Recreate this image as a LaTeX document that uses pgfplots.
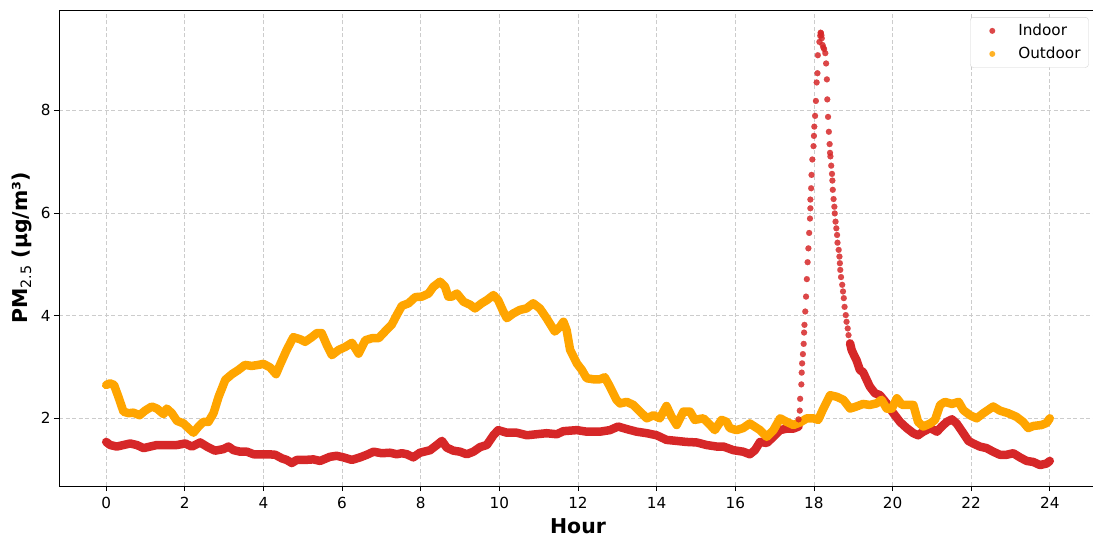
\documentclass[border=0pt]{standalone}
\usepackage{fontspec}
\setmainfont{DejaVu Sans}
\usepackage{pgfplots}
\pgfplotsset{compat=1.18}
\definecolor{inred}{HTML}{D62728}
\definecolor{outor}{HTML}{FFA500}
\begin{document}
\begin{tikzpicture}
\begin{axis}[
  at={(59bp,52bp)}, anchor=south west,
  scale only axis, width=1038bp, height=476bp,
  xmin=-1.2, xmax=25.2, ymin=0.682, ymax=9.951,
  xtick={0,2,...,24}, ytick={2,4,6,8},
  tick pos=left, tick align=outside, major tick length=5bp,
  tick style={black, line width=0.8bp},
  axis line style={line width=1bp},
  grid=major, grid style={dash pattern=on 4bp off 2.5bp, gray!40, line width=0.8bp},
  /pgf/number format/assume math mode=true,
  ticklabel style={font=\fontsize{15.3}{18}\selectfont},
  xticklabel style={yshift=-3bp},
  xlabel={\bfseries Hour},
  xlabel style={yshift=-3bp},
  ylabel={\textbf{PM}\textsubscript{2.5}\textbf{ (µg/m³)}},
  ylabel style={yshift=2bp},
  label style={font=\fontsize{20.5}{24}\selectfont},
  legend style={at={(0.992,0.985)}, anchor=north east, draw=gray!35, rounded corners=3bp,
    font=\fontsize{15.3}{18}\selectfont, row sep=6bp, inner xsep=6bp, inner ysep=5bp,
    cells={anchor=west}},
  legend cell align=left,
]
\addlegendimage{legend image code/.code={\path[draw=none, fill=none] (0bp,0bp) -- (40bp,0bp); \fill[inred, opacity=0.85, draw=none] (16bp,0bp) circle (3bp);}}
\addlegendentry{Indoor}
\addlegendimage{legend image code/.code={\path[draw=none, fill=none] (0bp,0bp) -- (40bp,0bp); \fill[outor, opacity=0.85, draw=none] (16bp,0bp) circle (3bp);}}
\addlegendentry{Outdoor}

% Indoor, dense part before the spike
\addplot[forget plot, inred, line width=8.5bp, line join=round, line cap=round] coordinates {
(0.00,1.54)(0.10,1.48)(0.27,1.45)(0.44,1.48)(0.61,1.51)(0.78,1.48)(0.95,1.42)(1.12,1.45)
(1.29,1.48)(1.54,1.48)(1.80,1.48)(2.01,1.51)(2.18,1.45)(2.39,1.53)(2.56,1.45)(2.77,1.37)
(2.98,1.40)(3.11,1.45)(3.24,1.38)(3.41,1.35)(3.58,1.35)(3.75,1.30)(3.92,1.30)(4.13,1.30)
(4.30,1.29)(4.47,1.22)(4.59,1.19)(4.72,1.13)(4.85,1.19)(5.06,1.19)(5.27,1.20)(5.44,1.17)
(5.69,1.25)(5.86,1.27)(6.03,1.24)(6.25,1.19)(6.46,1.24)(6.63,1.29)(6.80,1.35)(7.01,1.32)
(7.22,1.33)(7.39,1.30)(7.52,1.32)(7.65,1.30)(7.81,1.24)(7.98,1.33)(8.24,1.38)(8.41,1.48)
(8.54,1.56)(8.66,1.43)(8.83,1.37)(9.00,1.35)(9.17,1.30)(9.34,1.35)(9.51,1.44)(9.68,1.48)
(9.85,1.67)(9.97,1.77)(10.19,1.72)(10.44,1.72)(10.70,1.67)(10.95,1.69)(11.20,1.71)(11.46,1.69)
(11.63,1.75)(11.97,1.77)(12.22,1.74)(12.56,1.74)(12.81,1.77)(13.02,1.84)(13.24,1.79)(13.49,1.74)
(13.75,1.71)(14.00,1.67)(14.25,1.58)(14.51,1.56)(14.76,1.54)(15.02,1.53)(15.27,1.48)(15.53,1.45)
(15.70,1.45)(15.95,1.38)(16.20,1.35)(16.37,1.30)(16.50,1.38)(16.63,1.54)(16.80,1.52)(16.97,1.64)
(17.14,1.77)(17.31,1.80)(17.48,1.80)(17.61,1.84)
};
% Indoor, separate points of the spike
\addplot[forget plot, inred, only marks, mark=*, mark size=3bp, mark options={solid, draw=inred, fill=inred, line width=0.1bp, fill opacity=0.85, draw opacity=0.85}] coordinates {
(17.61,1.98)(17.64,2.15)(17.65,2.38)(17.68,2.66)(17.69,2.89)(17.70,3.07)(17.72,3.25)(17.74,3.45)
(17.75,3.67)(17.76,3.82)(17.78,4.08)(17.80,4.37)(17.82,4.71)(17.84,5.04)(17.86,5.31)(17.88,5.61)
(17.90,5.89)(17.91,6.09)(17.91,6.26)(17.93,6.48)(17.94,6.74)(17.96,7.04)(17.99,7.30)(18.00,7.50)
(18.01,7.68)(18.03,7.89)(18.05,8.18)(18.07,8.54)(18.09,8.72)(18.10,9.07)(18.14,9.33)(18.16,9.45)
(18.17,9.51)(18.18,9.50)(18.19,9.46)(18.20,9.40)(18.22,9.27)(18.24,9.22)(18.26,9.19)(18.29,9.11)
(18.31,8.91)(18.33,8.60)(18.34,8.21)(18.36,7.87)(18.38,7.58)(18.40,7.34)(18.41,7.17)(18.42,7.10)
(18.44,6.92)(18.46,6.76)(18.47,6.63)(18.48,6.45)(18.50,6.27)(18.52,6.12)(18.53,5.99)(18.55,5.83)
(18.57,5.70)(18.59,5.57)(18.60,5.42)(18.63,5.28)(18.65,5.15)(18.66,5.02)(18.67,4.89)(18.69,4.75)
(18.72,4.60)(18.74,4.47)(18.76,4.34)(18.78,4.17)(18.81,4.01)(18.83,3.88)(18.86,3.75)(18.88,3.62)
(18.92,3.46)
};
% Indoor, dense part after the spike
\addplot[forget plot, inred, line width=8.5bp, line join=round, line cap=round] coordinates {
(18.92,3.46)(18.96,3.33)(19.02,3.23)(19.08,3.14)(19.17,2.94)(19.25,2.90)(19.42,2.62)(19.55,2.49)
(19.68,2.45)(19.85,2.29)(20.02,2.10)(20.19,1.93)(20.36,1.81)(20.53,1.71)(20.65,1.67)(20.78,1.74)
(20.96,1.81)(21.13,1.74)(21.25,1.84)(21.38,1.93)(21.51,1.98)(21.63,1.90)(21.80,1.71)(21.93,1.56)
(22.05,1.51)(22.22,1.45)(22.39,1.42)(22.56,1.35)(22.73,1.29)(22.90,1.29)(23.07,1.32)(23.24,1.24)
(23.41,1.17)(23.58,1.15)(23.75,1.09)(23.92,1.12)(24.00,1.17)
};
% Outdoor
\addplot[forget plot, outor, line width=8.5bp, line join=round, line cap=round] coordinates {
(0.00,2.65)(0.10,2.68)(0.20,2.65)(0.31,2.42)(0.44,2.13)(0.57,2.10)(0.69,2.11)(0.85,2.06)
(0.99,2.15)(1.16,2.23)(1.29,2.19)(1.46,2.08)(1.54,2.19)(1.67,2.10)(1.80,1.95)(1.97,1.90)
(2.09,1.81)(2.22,1.72)(2.35,1.84)(2.47,1.93)(2.60,1.93)(2.73,2.10)(2.86,2.42)(3.03,2.75)
(3.20,2.86)(3.36,2.94)(3.53,3.04)(3.70,3.02)(3.87,3.04)(4.00,3.06)(4.17,2.99)(4.32,2.86)
(4.42,3.04)(4.59,3.33)(4.76,3.58)(4.93,3.54)(5.06,3.49)(5.23,3.58)(5.36,3.66)(5.48,3.66)
(5.61,3.43)(5.74,3.23)(5.91,3.33)(6.08,3.39)(6.25,3.47)(6.42,3.26)(6.59,3.52)(6.76,3.56)
(6.93,3.56)(7.09,3.69)(7.26,3.82)(7.39,4.01)(7.52,4.19)(7.69,4.24)(7.86,4.36)(8.03,4.37)
(8.20,4.43)(8.32,4.56)(8.49,4.66)(8.62,4.56)(8.70,4.37)(8.79,4.37)(8.92,4.43)(9.09,4.27)
(9.26,4.21)(9.38,4.14)(9.55,4.24)(9.68,4.30)(9.85,4.40)(9.97,4.30)(10.10,4.08)(10.19,3.95)
(10.35,4.04)(10.52,4.11)(10.69,4.14)(10.86,4.24)(11.03,4.14)(11.20,3.95)(11.41,3.69)(11.54,3.78)
(11.63,3.88)(11.71,3.72)(11.80,3.33)(11.97,3.07)(12.10,2.94)(12.22,2.78)(12.39,2.76)(12.56,2.76)
(12.68,2.80)(12.81,2.62)(12.98,2.36)(13.07,2.29)(13.24,2.32)(13.41,2.26)(13.58,2.13)(13.75,2.00)
(13.92,2.06)(14.08,2.00)(14.25,2.24)(14.38,2.03)(14.51,1.87)(14.68,2.13)(14.85,2.13)(14.97,1.97)
(15.19,2.00)(15.36,1.87)(15.48,1.77)(15.65,1.97)(15.78,1.93)(15.86,1.81)(16.03,1.77)(16.20,1.81)
(16.37,1.90)(16.63,1.77)(16.80,1.64)(16.97,1.77)(17.14,2.00)(17.31,1.93)(17.48,1.87)(17.65,1.92)
(17.82,2.00)(17.98,2.00)(18.11,1.97)(18.24,2.19)(18.41,2.45)(18.58,2.42)(18.75,2.36)(18.92,2.19)
(19.08,2.23)(19.25,2.28)(19.42,2.26)(19.59,2.29)(19.72,2.36)(19.85,2.19)(19.98,2.19)(20.11,2.39)
(20.24,2.26)(20.41,2.26)(20.53,2.26)(20.65,1.93)(20.78,1.84)(20.96,1.90)(21.08,1.97)(21.21,2.26)
(21.33,2.32)(21.51,2.28)(21.68,2.32)(21.80,2.16)(21.97,2.06)(22.14,2.00)(22.31,2.10)(22.56,2.23)
(22.73,2.15)(22.94,2.10)(23.15,2.03)(23.32,1.93)(23.45,1.81)(23.58,1.85)(23.79,1.87)(23.92,1.91)
(24.00,2.00)
};
\end{axis}
\pgfresetboundingbox
\useasboundingbox (0,0) rectangle (1093bp,538bp);
\end{tikzpicture}
\end{document}
